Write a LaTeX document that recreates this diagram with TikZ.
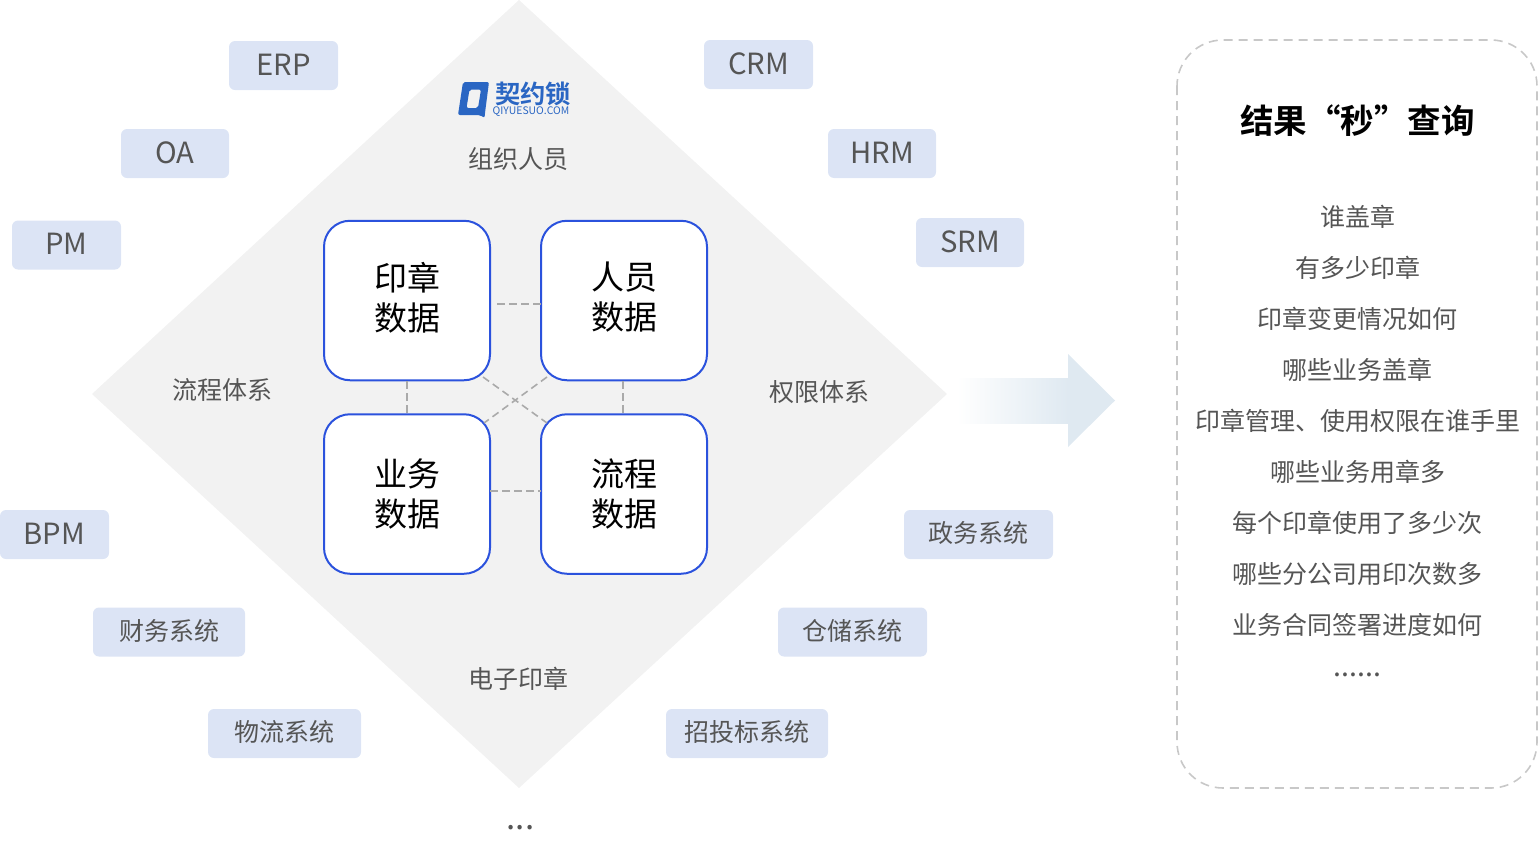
\documentclass[tikz,border=0pt]{standalone}
\usepackage{fontspec}
\setmainfont{Noto Sans CJK SC}[BoldFont={Noto Sans CJK SC Bold}]
\definecolor{pillc}{HTML}{DCE4F5}
\definecolor{diac}{HTML}{F2F2F2}
\definecolor{bluec}{HTML}{2B52DD}
\definecolor{txtc}{HTML}{555555}
\definecolor{dashc}{HTML}{AAAAAA}
\definecolor{panelc}{HTML}{C8C8C8}
\definecolor{arrowc}{HTML}{DFE9F1}
\definecolor{logoc}{HTML}{2A66C3}
\newcommand{\fs}[2]{\fontsize{#1}{#2}\selectfont}
\newcommand{\uptwo}[2]{\raisebox{3pt}[\height][\depth]{\parbox{70pt}{\centering #1\\#2}}}
\tikzset{
  pill/.style={fill=pillc,rounded corners=6pt,inner sep=0pt,text=txtc,font=\fs{25}{30},text height=21pt,text depth=5pt,minimum height=49pt},
  pilllatin/.style={pill,font=\fs{29.2}{34},text height=22pt,text depth=3pt},
  corebox/.style={draw=bluec,line width=2pt,fill=white,rounded corners=26pt,inner sep=0pt,minimum width=166pt,minimum height=159.5pt,align=center,text=black,font=\fs{33}{40}},
  side/.style={inner sep=0pt,text=txtc,font=\fs{25}{30}},
  link/.style={draw=dashc,line width=1.6pt,dash pattern=on 7.5pt off 4.5pt},
}
\begin{document}
\begin{tikzpicture}[x=1pt,y=-1pt]
\useasboundingbox (0,0) rectangle (1539,857);
% diamond
\fill[diac] (519,0) -- (947,394) -- (519,788) -- (92,394) -- cycle;
% logo
\fill[logoc,even odd rule,rounded corners=2pt] (463,82) -- (489,82) -- (485,113) -- (484.5,118) -- (480,115) -- (458,115) -- cycle
  (469.5,89.5) -- (481,89.5) -- (478,108) -- (466.5,108) -- cycle;
\node[inner sep=0pt,text=logoc,font=\fs{25.3}{30}\bfseries] (logo) at (533,94) {契约锁};
\node[inner sep=0pt,text=logoc,font=\fs{10.4}{12}] (logourl) at (531,112) {QIYUESUO.COM};
% pills
\node[pilllatin,minimum width=109pt] (erp) at (283.5,65.5) {ERP};
\node[pilllatin,minimum width=109pt] (crm) at (758.5,64.5) {CRM};
\node[pilllatin,minimum width=108pt] (oa) at (175,153.5) {OA};
\node[pilllatin,minimum width=108pt] (hrm) at (882,153.5) {HRM};
\node[pilllatin,minimum width=109pt] (pm) at (66.5,245) {PM};
\node[pilllatin,minimum width=108pt] (srm) at (970,242.5) {SRM};
\node[pilllatin,minimum width=109pt] (bpm) at (54.5,534.5) {BPM};
\node[pill,minimum width=149pt] (gov) at (978.5,534.5) {政务系统};
\node[pill,minimum width=152pt] (fin) at (169,632) {财务系统};
\node[pill,minimum width=149pt] (ware) at (852.5,632) {仓储系统};
\node[pill,minimum width=153pt] (log) at (284.5,733.5) {物流系统};
\node[pill,minimum width=162pt] (bid) at (747,733.5) {招投标系统};
% diamond labels
\node[side] (org) at (518,159) {组织人员};
\node[side] (flow) at (222,390) {流程体系};
\node[side] (perm) at (819,392) {权限体系};
\node[side] (esign) at (518.5,678.5) {电子印章};
% dots
\node[inner sep=0pt,text=txtc,font=\fs{33}{40}] (more) at (520.5,828) {...};
% core boxes
\node[corebox] (seal) at (407,300.5) {\uptwo{印章}{数据}};
\node[corebox] (staff) at (624,300.5) {\uptwo{人员}{数据}};
\node[corebox] (biz) at (407,494) {业务\\数据};
\node[corebox] (proc) at (624,494) {流程\\数据};
% connectors
\coordinate (sealE) at (497,304);
\coordinate (staffW) at (541,304);
\coordinate (bizE) at (490,491);
\coordinate (procW) at (541,491);
\coordinate (sealSE) at (483,377);
\coordinate (procNW) at (547,423);
\coordinate (staffSW) at (547,377);
\coordinate (bizNE) at (484,423);
\draw[link] (sealE) -- (staffW);
\draw[link] (bizE) -- (procW);
\draw[link] (seal.south) -- (biz.north);
\draw[link] ([xshift=-1pt]staff.south) -- ([xshift=-1pt]proc.north);
\draw[link] (sealSE) -- (procNW);
\draw[link] (staffSW) -- (bizNE);
% arrow
\shade[left color=white,right color=arrowc,shading=axis] (957,378) rectangle (1068,423);
\fill[arrowc] (1068,354) -- (1115,400.5) -- (1068,447) -- cycle;
% panel
\draw[panelc,line width=1.6pt,dash pattern=on 9pt off 6pt,rounded corners=46pt] (1177,40) rectangle (1537,788);
\node[inner sep=0pt,text=black,font=\fs{33.5}{40}\bfseries] (title) at (1357.5,120.5) {结果“秒”查询};
\foreach \n/\y/\t in {a/217/谁盖章,b/268/有多少印章,c/319/印章变更情况如何,d/370/哪些业务盖章,e/421/印章管理、使用权限在谁手里,f/472/哪些业务用章多,g/523/每个印章使用了多少次,h/574/哪些分公司用印次数多,i/625/业务合同签署进度如何}
  \node[side] (q\n) at (1357.5,\y) {\t};
\node[side,font=\fs{28.5}{34}] (qdots) at (1357.5,675) {......};
\end{tikzpicture}
\end{document}
